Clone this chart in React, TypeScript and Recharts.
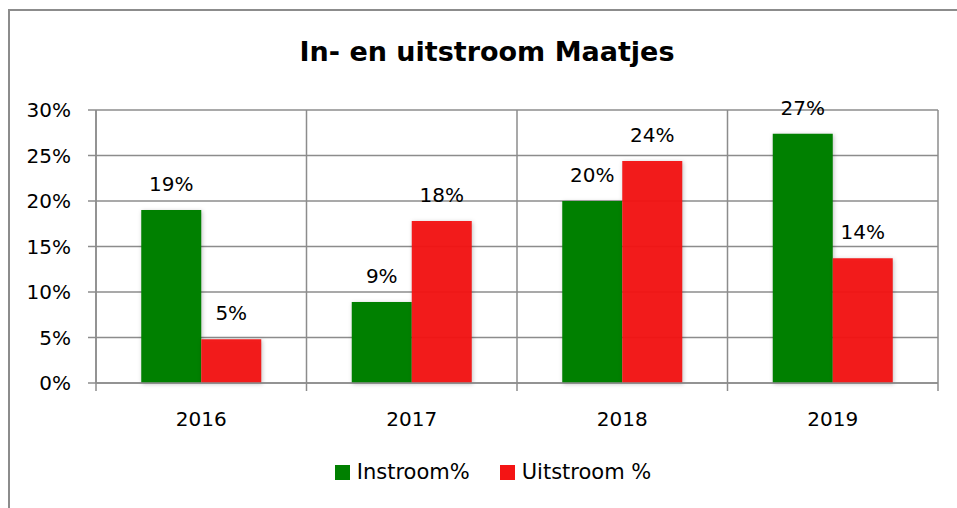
import React from 'react';
import { BarChart, Bar, XAxis, YAxis, CartesianGrid, Legend, LabelList, Rectangle } from 'recharts';

const years = ['2016', '2017', '2018', '2019'];
const instroom = [19.0, 8.9, 20.0, 27.4];
const uitstroom = [4.8, 17.8, 24.4, 13.7];
const yTicks = [0, 5, 10, 15, 20, 25, 30];
const seriesNames = ['Instroom%', 'Uitstroom %'];
const title = 'In- en uitstroom Maatjes';

const data = years.map((y, i) => ({ year: y, instroom: instroom[i], uitstroom: uitstroom[i] }));

const FONT = '"DejaVu Sans", sans-serif';
const GREEN = '#008000';
const RED = '#f41414';
const GRID = '#8c8c8c';

const ShadowBar = (props: any) => (
  <Rectangle {...props} style={{ filter: 'drop-shadow(1px 1px 2px rgba(0,0,0,0.25))' }} />
);

const XTick = (props: any) => {
  const { x, y, payload, index, visibleTicksCount } = props;
  const half = payload.offset || 0;
  const axisY = y - 29;
  const last = index === (visibleTicksCount || years.length) - 1;
  return (
    <g>
      <line x1={x - half} x2={x - half} y1={axisY} y2={axisY + 8} stroke={GRID} strokeWidth={1.5} />
      {last && <line x1={x + half} x2={x + half} y1={axisY} y2={axisY + 8} stroke={GRID} strokeWidth={1.5} />}
      <text x={x} y={y} dy="0.71em" textAnchor="middle" fontFamily={FONT} fontSize={20} fill="#000">
        {payload.value}
      </text>
    </g>
  );
};

const LegendContent = (props: any) => {
  const items = props.payload || [];
  return (
    <div style={{ display: 'flex', justifyContent: 'center', alignItems: 'center', fontFamily: FONT, fontSize: 21, color: '#000' }}>
      {items.map((it: any, i: number) => (
        <div key={i} style={{ display: 'flex', alignItems: 'center', marginLeft: i === 0 ? 0 : 30 }}>
          <div style={{ width: 15, height: 15, background: it.color, marginRight: 7 }} />
          <span>{it.value}</span>
        </div>
      ))}
    </div>
  );
};

export default function App() {
  return (
    <div style={{ position: 'absolute', left: 0, top: 0, width: 957, height: 508, overflow: 'hidden', background: '#fff' }}>
      <div style={{ position: 'absolute', left: 8, top: 9, width: 1200, height: 800, border: `2px solid ${GRID}`, boxSizing: 'border-box' }} />
      <div style={{ position: 'absolute', left: 0, top: 34, width: 974, textAlign: 'center', fontFamily: FONT, fontWeight: 700, fontSize: 27, lineHeight: '36px', color: '#000' }}>
        {title}
      </div>
      <BarChart
        width={957}
        height={508}
        data={data}
        margin={{ top: 110, right: 19, left: 0, bottom: 85 }}
        barCategoryGap="21.5%"
        barGap={0}
        style={{ position: 'absolute', left: 0, top: 0 }}
      >
        <CartesianGrid
          stroke={GRID}
          strokeWidth={1.5}
          verticalCoordinatesGenerator={({ offset }: any) =>
            [0, 1, 2, 3, 4].map((i) => offset.left + (i * offset.width) / years.length)
          }
        />
        <XAxis
          dataKey="year"
          height={40}
          tickLine={false}
          axisLine={{ stroke: GRID, strokeWidth: 1.5 }}
          tickSize={8}
          tickMargin={21}
          tick={<XTick />}
          interval={0}
        />
        <YAxis
          width={96}
          domain={[0, 30]}
          ticks={yTicks}
          tickFormatter={(v: number) => `${v}%`}
          tickSize={8}
          tickMargin={17}
          axisLine={{ stroke: GRID, strokeWidth: 1.5 }}
          tickLine={{ stroke: GRID, strokeWidth: 1.5 }}
          tick={{ fontFamily: FONT, fontSize: 20, fill: '#000' }}
          interval={0}
        />
        <Legend
          layout="horizontal"
          verticalAlign="middle"
          align="center"
          wrapperStyle={{ top: 460, left: 0, width: 986 }}
          content={<LegendContent />}
        />
        <Bar dataKey="instroom" name={seriesNames[0]} fill={GREEN} isAnimationActive={false} shape={<ShadowBar />}>
          <LabelList dataKey="instroom" position="top" offset={19} formatter={(v: number) => `${Math.round(v)}%`} style={{ fontFamily: FONT, fontSize: 20, fill: '#000' }} />
        </Bar>
        <Bar dataKey="uitstroom" name={seriesNames[1]} fill={RED} fillOpacity={0.96} isAnimationActive={false} shape={<ShadowBar />}>
          <LabelList dataKey="uitstroom" position="top" offset={19} formatter={(v: number) => `${Math.round(v)}%`} style={{ fontFamily: FONT, fontSize: 20, fill: '#000' }} />
        </Bar>
      </BarChart>
    </div>
  );
}
